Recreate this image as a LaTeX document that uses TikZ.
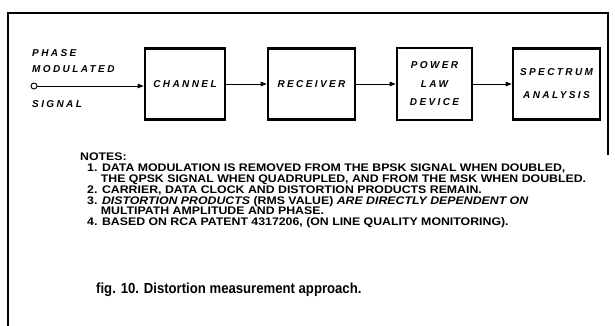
\documentclass[tikz,border=0pt]{standalone}
\usepackage{fontspec}
\setmainfont{Liberation Sans}
\newfontfamily\lblfont[LetterSpace=24]{Liberation Sans}
\newfontfamily\notefont[FakeStretch=1.12]{Liberation Sans}
\newfontfamily\capfont[FakeStretch=0.9]{Liberation Sans}
\usetikzlibrary{arrows.meta}
\tikzset{
  blk/.style={draw, line width=2.6pt, inner sep=1pt, align=center,
    font=\lblfont\bfseries\itshape\fontsize{10}{18.5}\selectfont},
  arr/.style={line width=0.9pt, -{Triangle[length=6pt,width=4.5pt]}},
  lbl/.style={anchor=west, inner sep=0pt, font=\lblfont\bfseries\itshape\fontsize{10}{12}\selectfont},
  frame/.style={line width=1.1pt}
}
\newcommand{\hang}{\hspace*{7pt}\phantom{1.\ }}
\begin{document}
\begin{tikzpicture}[x=1pt,y=-1pt]
\useasboundingbox (0,0) rectangle (615,326);
% frame
\draw[frame] (8,326) -- (8,13) -- (608,13) -- (608,155);
% input
\node[circle, draw, line width=0.9pt, inner sep=0pt, minimum size=6pt] (in) at (34,86) {};
\node[lbl] (t1) at (32,53) {PHASE};
\node[lbl] (t2) at (32,69) {MODULATED};
\node[lbl] (t3) at (32,104) {SIGNAL};
% blocks
\node[blk, minimum width=80pt, minimum height=71pt] (ch) at (185,84) {CHANNEL};
\node[blk, minimum width=87pt, minimum height=71pt] (rx) at (311.5,84) {RECEIVER};
\node[blk, minimum width=75pt, minimum height=72pt] (pl) at (434.5,84) {POWER\\LAW\\DEVICE};
\node[blk, minimum width=87pt, minimum height=71pt, font=\lblfont\bfseries\itshape\fontsize{10}{23}\selectfont] (sa) at (556.5,84) {SPECTRUM\\ANALYSIS};
% connectors
\draw[arr] (in) -- (in -| ch.west);
\draw[arr] (ch) -- (rx);
\draw[arr] (rx) -- (pl);
\draw[arr] (pl) -- (sa);
% notes
\node[anchor=north west, inner sep=0pt, align=left,
  font=\notefont\bfseries\fontsize{11}{10.8}\selectfont] (notes) at (80,153) {%
NOTES:\\
\hspace*{7pt}1. DATA MODULATION IS REMOVED FROM THE BPSK SIGNAL WHEN DOUBLED,\\
\hang THE QPSK SIGNAL WHEN QUADRUPLED, AND FROM THE MSK WHEN DOUBLED.\\
\hspace*{7pt}2. CARRIER, DATA CLOCK AND DISTORTION PRODUCTS REMAIN.\\
\hspace*{7pt}3. \textit{DISTORTION PRODUCTS} (RMS VALUE) \textit{ARE DIRECTLY DEPENDENT ON}\\
\hang MULTIPATH AMPLITUDE AND PHASE.\\
\hspace*{7pt}4. BASED ON RCA PATENT 4317206, (ON LINE QUALITY MONITORING).};
% caption
\node[anchor=west, inner sep=0pt, font=\capfont\bfseries\fontsize{14.6}{16}\selectfont] (cap) at (96,290)
  {fig. 10. Distortion measurement approach.};
\end{tikzpicture}
\end{document}
